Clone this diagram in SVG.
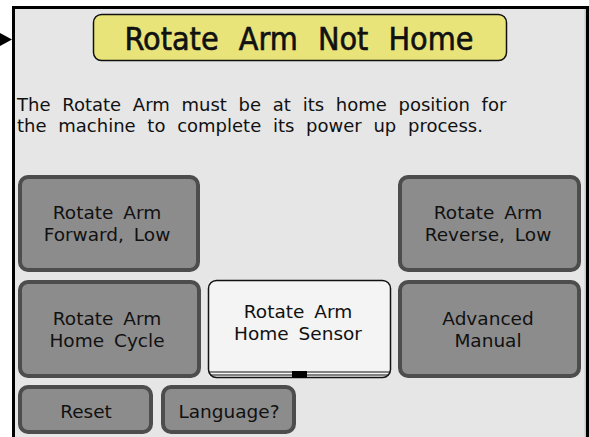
<svg xmlns="http://www.w3.org/2000/svg" width="589" height="437" viewBox="0 0 589 437">
<style>
.txt{font-family:"DejaVu Sans",sans-serif;font-size:18.5px;fill:#111;text-anchor:middle;word-spacing:4px}
.btn{fill:#8c8c8c;stroke:#4d4d4d;stroke-width:4}
.para{font-family:"DejaVu Sans",sans-serif;font-size:18px;fill:#111;word-spacing:6px}
</style>
<rect x="0" y="0" width="589" height="437" fill="#ffffff"/>
<rect x="13" y="7" width="576" height="430" fill="#e6e6e6"/>
<g id="frame">
<rect x="12" y="6" width="3" height="431" fill="#000"/>
<rect x="12" y="6" width="577" height="3" fill="#000"/>
<rect x="586" y="6" width="3" height="431" fill="#000"/>
<rect x="584.5" y="9" width="1.5" height="428" fill="#c8c8c8"/>
</g>
<g id="connectors">
<polygon points="0,33 12,39.5 0,46" fill="#000"/>
</g>
<g id="title">
<rect x="93.5" y="14.5" width="413" height="46" rx="8" fill="#e8e47a" stroke="#111" stroke-width="1.5"/>
<text x="299" y="50" style="font-family:'DejaVu Sans Condensed','DejaVu Sans',sans-serif;font-size:32px;fill:#111;text-anchor:middle;word-spacing:11px;stroke:#111;stroke-width:0.6">Rotate Arm Not Home</text>
</g>
<g id="message">
<text class="para" x="17" y="111">The Rotate Arm must be at its home position for</text>
<text class="para" x="17" y="132">the machine to complete its power up process.</text>
</g>
<g id="btn-forward">
<rect class="btn" x="20" y="177" width="178" height="93" rx="8"/>
<text class="txt" x="107" y="219">Rotate Arm</text>
<text class="txt" x="107" y="241">Forward, Low</text>
</g>
<g id="btn-reverse">
<rect class="btn" x="400" y="177" width="179" height="93" rx="8"/>
<text class="txt" x="488" y="219">Rotate Arm</text>
<text class="txt" x="488" y="241">Reverse, Low</text>
</g>
<g id="btn-homecycle">
<rect class="btn" x="20" y="282" width="179" height="94" rx="8"/>
<text class="txt" x="107" y="325">Rotate Arm</text>
<text class="txt" x="107" y="347">Home Cycle</text>
</g>
<g id="btn-sensor">
<rect x="208.5" y="280.5" width="182" height="97" rx="8" fill="#f4f4f4" stroke="#111" stroke-width="1.5"/>
<line x1="209" y1="372" x2="390" y2="372" stroke="#111" stroke-width="1.2"/>
<line x1="211" y1="375" x2="388" y2="375" stroke="#111" stroke-width="1.2"/>
<rect x="292" y="371" width="15" height="7" fill="#000"/>
<text class="txt" x="298" y="318">Rotate Arm</text>
<text class="txt" x="298" y="340">Home Sensor</text>
</g>
<g id="btn-advanced">
<rect class="btn" x="400" y="282" width="179" height="94" rx="8"/>
<text class="txt" x="488" y="325">Advanced</text>
<text class="txt" x="488" y="347">Manual</text>
</g>
<g id="btn-reset">
<rect class="btn" x="20" y="387" width="131" height="45" rx="8"/>
<text class="txt" x="86" y="418">Reset</text>
</g>
<g id="btn-language">
<rect class="btn" x="163" y="387" width="131" height="45" rx="8"/>
<text class="txt" x="229" y="418">Language?</text>
</g>
</svg>
